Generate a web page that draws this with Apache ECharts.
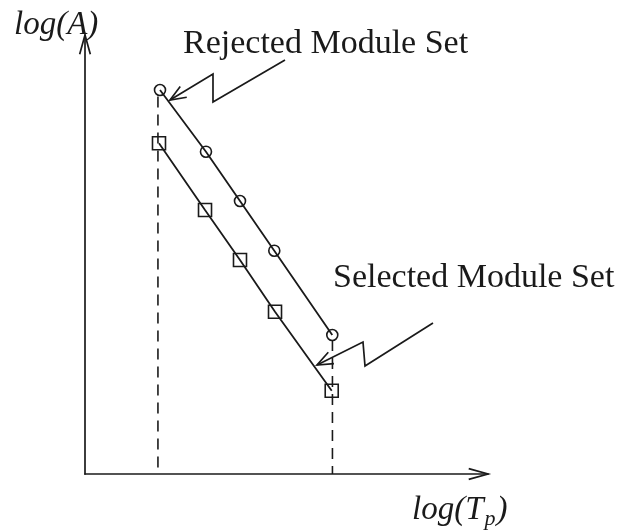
<!DOCTYPE html>
<html>
<head>
<meta charset="utf-8">
<script src="https://cdn.jsdelivr.net/npm/echarts@6/dist/echarts.min.js"></script>
<style>
  html, body { margin: 0; padding: 0; background: #fff; }
  #chart { width: 623px; height: 532px; }
</style>
</head>
<body>
<div id="chart"></div>
<script>
// log(Tp) vs log(A) trade-off for two module sets
const rejectedX = [1.861, 3.002, 3.846, 4.697, 6.136];
const rejectedY = [8.747, 7.342, 6.219, 5.087, 3.166];
const selectedX = [1.836, 2.978, 3.846, 4.715, 6.122];
const selectedY = [7.533, 6.014, 4.875, 3.697, 1.897];

// vertical dashed guides: [x, top y]
const guideLeft = [1.81, 8.60];
const guideRight = [6.14, 3.05];

// lightning-bolt pointers, listed from tail to tip
const rejectedPointer = [4.963, 9.431, 3.176, 8.474, 3.176, 9.112, 2.109, 8.519];
const selectedPointer = [8.635, 3.440, 6.948, 2.460, 6.898, 3.007, 5.757, 2.483];

const xMax = 10, yMax = 10;
const ink = '#1a1a1a';
const serif = '"Liberation Serif", "Times New Roman", serif';

const chart = echarts.init(document.getElementById('chart'), null, { renderer: 'canvas' });

const zip = (xs, ys) => xs.map((x, i) => [x, ys[i]]);

function pointerItem(params, api) {
  const pts = [0, 1, 2, 3].map(i => api.coord([api.value(2 * i), api.value(2 * i + 1)]));
  const tip = pts[3], prev = pts[2];
  const ang = Math.atan2(prev[1] - tip[1], prev[0] - tip[0]);
  const len = 17, spread = 0.38;
  const b1 = [tip[0] + len * Math.cos(ang + spread), tip[1] + len * Math.sin(ang + spread)];
  const b2 = [tip[0] + len * Math.cos(ang - spread), tip[1] + len * Math.sin(ang - spread)];
  const style = { stroke: ink, lineWidth: 1.7, fill: null };
  return {
    type: 'group',
    children: [
      { type: 'polyline', shape: { points: pts }, style },
      { type: 'polyline', shape: { points: [b1, tip, b2] }, style }
    ]
  };
}

function axisArrowItem(params, api) {
  const tip = api.coord([api.value(0), api.value(1)]);
  const dx = api.value(2), dy = api.value(3);
  const ang = Math.atan2(-dy, -dx);
  const len = 20, spread = 0.27;
  const b1 = [tip[0] + len * Math.cos(ang + spread), tip[1] + len * Math.sin(ang + spread)];
  const b2 = [tip[0] + len * Math.cos(ang - spread), tip[1] + len * Math.sin(ang - spread)];
  return {
    type: 'polyline',
    shape: { points: [b1, tip, b2] },
    style: { stroke: ink, lineWidth: 1.7, fill: null }
  };
}

const hollow = { color: 'rgba(0,0,0,0)', borderColor: ink, borderWidth: 1.6 };
const dashed = { color: ink, width: 1.6, type: [11, 7] };

// text is placed by its baseline; 'middle' sits about a quarter em above it
const mid = (baseline, size) => baseline - 0.24 * size;

// measure text so the subscript can be placed after "log(T"
const ctx = document.createElement('canvas').getContext('2d');
function textWidth(str, font) { ctx.font = font; return ctx.measureText(str).width; }
const mathSize = 33, subSize = 22, labelSize = 34;
const mathFont = 'italic ' + mathSize + 'px ' + serif;
const subFont = 'italic ' + subSize + 'px ' + serif;
const labelFont = labelSize + 'px ' + serif;
const tpLeft = 412, tpBase = 518;
const wMain = textWidth('log(T', mathFont);
const wSub = textWidth('p', subFont);

const txt = (x, baseline, size, text, font) => ({
  type: 'text', x: x, y: mid(baseline, size),
  style: { text: text, font: font, fill: ink, verticalAlign: 'middle', align: 'left' }
});

chart.setOption({
  backgroundColor: '#ffffff',
  animation: false,
  grid: { left: 85, top: 35, width: 403, height: 439 },
  xAxis: {
    type: 'value', min: 0, max: xMax,
    axisLine: { show: true, lineStyle: { color: ink, width: 1.7 } },
    axisTick: { show: false }, axisLabel: { show: false }, splitLine: { show: false }
  },
  yAxis: {
    type: 'value', min: 0, max: yMax,
    axisLine: { show: true, lineStyle: { color: ink, width: 1.7 } },
    axisTick: { show: false }, axisLabel: { show: false }, splitLine: { show: false }
  },
  series: [
    {
      name: 'guide-left', type: 'line', symbol: 'none',
      data: [[guideLeft[0], guideLeft[1]], [guideLeft[0], 0]],
      lineStyle: dashed, z: 1
    },
    {
      name: 'guide-right', type: 'line', symbol: 'none',
      data: [[guideRight[0], guideRight[1]], [guideRight[0], 0]],
      lineStyle: dashed, z: 1
    },
    {
      name: 'Rejected Module Set', type: 'line',
      data: zip(rejectedX, rejectedY),
      symbol: 'circle', symbolSize: 11,
      itemStyle: hollow,
      lineStyle: { color: ink, width: 1.8 }, z: 3
    },
    {
      name: 'Selected Module Set', type: 'line',
      data: zip(selectedX, selectedY),
      symbol: 'rect', symbolSize: 13,
      itemStyle: hollow,
      lineStyle: { color: ink, width: 1.8 }, z: 3
    },
    {
      name: 'pointers', type: 'custom', renderItem: pointerItem, clip: false,
      data: [rejectedPointer, selectedPointer], z: 4
    },
    {
      name: 'axis-arrows', type: 'custom', renderItem: axisArrowItem, clip: false,
      data: [[xMax, 0, 1, 0], [0, yMax, 0, -1]], z: 4
    }
  ],
  graphic: [
    txt(14, 33, mathSize, 'log(A)', mathFont),
    txt(183, 52, labelSize, 'Rejected Module Set', labelFont),
    txt(333, 286, labelSize, 'Selected Module Set', labelFont),
    txt(tpLeft, tpBase, mathSize, 'log(T', mathFont),
    txt(tpLeft + wMain + 1, tpBase + 6, subSize, 'p', subFont),
    txt(tpLeft + wMain + wSub + 2, tpBase, mathSize, ')', mathFont)
  ]
});
</script>
</body>
</html>
